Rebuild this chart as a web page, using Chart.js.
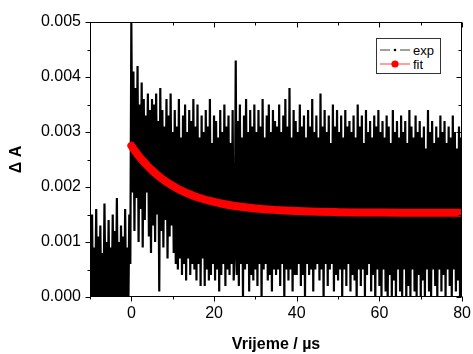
<!DOCTYPE html>
<html>
<head>
<meta charset="utf-8">
<script src="https://cdn.jsdelivr.net/npm/chart.js@4/dist/chart.umd.min.js"></script>
<style>
  html, body { margin: 0; padding: 0; background: #fff; }
  #wrap { position: relative; width: 473px; height: 354px; }
  #legend {
    position: absolute; left: 376px; top: 38px; width: 63px; height: 34px;
    border: 1px solid #333; background: #fff; box-sizing: content-box;
    font-family: "Liberation Sans", Arial, sans-serif; font-size: 13px; color: #000;
  }
  .row { position: absolute; left: 3px; height: 14px; display: flex; align-items: center; }
  .row svg { margin-right: 3px; }
</style>
</head>
<body>
<div id="wrap">
  <canvas id="c" width="473" height="354"></canvas>
  <div id="legend"></div>
</div>
<script>
// ---- data ----
const expTimeStart = -10;   // µs, first sample
const expTimeStep = 0.25;   // µs, sampling interval
const expValues = [
  0.0012,-0.0004,0.0015,-0.0006,0.0009,-0.0002,0.0016,-0.0005,0.0011,-0.0001,
  0.0013,-0.0006,0.0008,-0.0003,0.0017,-0.0002,0.0010,-0.0007,0.0014,-0.0003,
  0.0009,-0.0001,0.0015,-0.0005,0.0012,-0.0002,0.0018,-0.0004,0.0010,-0.0006,
  0.0013,-0.0001,0.0011,-0.0005,0.0016,-0.0002,0.0009,-0.0004,0.0015,0.0006,
  0.0050,
  0.0019,0.0041,0.0012,0.0038,0.0018,0.0042,0.0010,0.0035,0.0016,0.0039,
  0.0009,0.0036,0.0014,0.0033,0.0019,0.0037,0.0011,0.0034,0.0008,0.0036,
  0.0013,0.0035,0.0010,0.0037,0.0015,0.0032,0.0001,0.0038,0.0012,0.0034,
  0.0009,0.0031,0.0014,0.0036,0.0007,0.0033,0.0011,0.0037,0.0013,0.0030,
  0.0008,0.0034,0.0006,0.0031,0.0005,0.0036,0.0007,0.0029,0.0004,0.0033,
  0.0006,0.0035,0.0003,0.0030,0.0007,0.0034,0.0004,0.0032,0.0006,0.0036,
  0.0005,0.0031,0.0003,0.0035,0.0006,0.0029,0.0002,0.0033,0.0007,0.0030,
  0.0002,0.0034,0.0005,0.0031,0.0003,0.0036,0.0004,0.0028,0.0006,0.0033,
  0.0003,0.0032,0.0005,0.0029,0.0001,0.0034,0.0004,0.0030,0.0006,0.0035,
  0.0002,0.0031,0.0005,0.0033,0.0004,0.0028,0.0006,0.0034,0.0003,0.0008,
  0.0043,0.0004,0.0032,0.0002,0.0035,0.0006,0.0029,0.0000,0.0033,0.0005,
  0.0036,0.0006,0.0030,0.0001,0.0034,0.0004,0.0031,0.0003,0.0035,0.0005,
  0.0030,0.0002,0.0034,0.0006,0.0031,-0.0001,0.0036,0.0005,0.0029,0.0006,
  0.0033,0.0003,0.0035,0.0004,0.0030,0.0001,0.0034,0.0005,0.0032,0.0004,
  0.0031,0.0005,0.0035,0.0002,0.0030,0.0006,0.0033,-0.0001,0.0036,0.0005,
  0.0031,0.0003,0.0038,0.0005,0.0029,0.0001,0.0034,0.0004,0.0032,0.0004,
  0.0030,0.0006,0.0035,0.0002,0.0031,0.0004,0.0033,0.0000,0.0029,0.0006,
  0.0034,0.0004,0.0031,0.0005,0.0036,0.0001,0.0030,0.0005,0.0033,0.0006,
  0.0029,0.0003,0.0037,0.0005,0.0031,-0.0001,0.0034,0.0006,0.0030,0.0002,
  0.0033,0.0005,0.0028,0.0006,0.0035,0.0001,0.0031,0.0004,0.0034,0.0003,
  0.0030,0.0005,0.0033,0.0000,0.0029,0.0005,0.0034,0.0002,0.0031,0.0006,
  0.0032,0.0001,0.0030,0.0004,0.0033,0.0003,0.0029,-0.0001,0.0035,0.0005,
  0.0031,0.0002,0.0033,0.0005,0.0028,0.0000,0.0034,0.0004,0.0030,0.0006,
  0.0032,0.0001,0.0029,0.0004,0.0033,-0.0001,0.0031,0.0005,0.0034,0.0002,
  0.0030,0.0000,0.0032,0.0005,0.0029,0.0001,0.0033,-0.0001,0.0031,0.0004,
  0.0028,0.0000,0.0034,0.0003,0.0030,-0.0001,0.0032,0.0005,0.0029,0.0001,
  0.0033,0.0000,0.0030,0.0005,0.0032,-0.0001,0.0028,0.0002,0.0034,0.0000,
  0.0031,0.0005,0.0029,0.0001,0.0033,0.0000,0.0030,0.0004,0.0032,0.0000,
  0.0029,0.0003,0.0031,0.0000,0.0027,0.0005,0.0034,0.0001,0.0030,0.0000,
  0.0032,0.0005,0.0028,0.0002,0.0031,0.0000,0.0029,0.0005,0.0033,0.0001,
  0.0030,0.0004,0.0032,0.0000,0.0028,0.0005,0.0031,0.0002,0.0029,0.0000,
  0.0033,0.0005,0.0030,0.0001,0.0027,0.0003,0.0031,0.0000,0.0029,0.0004
];
const fitTimes = [0,1,2,3,4,5,6,7,8,9,10,11,12,13,14,15,16,17,18,19,20,
                  22,24,26,28,30,32,34,36,38,40,45,50,55,60,65,70,75,80];
const fitValues = [0.002750,0.002644,0.002547,0.002459,0.002378,0.002304,0.002237,
                   0.002176,0.002120,0.002068,0.002022,0.001979,0.001940,0.001904,
                   0.001872,0.001842,0.001815,0.001790,0.001768,0.001747,0.001728,
                   0.001695,0.001668,0.001645,0.001626,0.001610,0.001597,0.001586,
                   0.001576,0.001569,0.001562,0.001550,0.001543,0.001538,0.001535,
                   0.001533,0.001532,0.001531,0.001531];
const seriesNames = ['exp', 'fit'];
const xTickLabels = [0, 20, 40, 60, 80];
const yTickLabels = ['0.000','0.001','0.002','0.003','0.004','0.005'];

// ---- build library data ----
const expPoints = expValues.map((v, i) => ({ x: expTimeStart + i * expTimeStep, y: v }));
const fitPoints = fitValues.map((v, i) => ({ x: fitTimes[i], y: v }));

Chart.defaults.font.family = '"Liberation Sans", Arial, Helvetica, sans-serif';
Chart.defaults.font.size = 16;
Chart.defaults.color = '#000';

const isMajorY = v => Math.abs(v / 0.001 - Math.round(v / 0.001)) < 1e-6;
const isMajorX = v => Math.abs(v / 20 - Math.round(v / 20)) < 1e-6;

const frameTicks = {
  id: 'frameTicks',
  afterDatasetsDraw(chart) {
    const { ctx, chartArea: { left, top, right, bottom }, scales: { x, y } } = chart;
    ctx.save();
    ctx.strokeStyle = '#000';
    ctx.lineWidth = 1;
    const L = Math.round(left) + 0.5, R = Math.round(right) - 0.5;
    const T = Math.round(top) + 0.5, B = Math.round(bottom) - 0.5;
    ctx.strokeRect(L, T, R - L, B - T);
    ctx.beginPath();
    y.ticks.forEach(t => {
      const p = Math.round(y.getPixelForValue(t.value)) + 0.5;
      const len = isMajorY(t.value) ? 5 : 3;
      ctx.moveTo(L, p); ctx.lineTo(L - len, p);
      ctx.moveTo(R, p); ctx.lineTo(R - len, p);
    });
    x.ticks.forEach(t => {
      const p = Math.round(x.getPixelForValue(t.value)) + 0.5;
      const len = isMajorX(t.value) ? 5 : 3;
      ctx.moveTo(p, B); ctx.lineTo(p, B + len);
      ctx.moveTo(p, T); ctx.lineTo(p, T + len);
    });
    ctx.stroke();
    ctx.restore();
  }
};

new Chart(document.getElementById('c'), {
  type: 'line',
  data: {
    datasets: [
      { label: seriesNames[0], data: expPoints, borderColor: '#000', borderWidth: 2.2,
        borderJoinStyle: 'miter', pointRadius: 0, fill: false, order: 1 },
      { label: seriesNames[1], data: fitPoints, borderColor: '#ff0000', borderWidth: 8,
        borderCapStyle: 'round', borderJoinStyle: 'round', pointRadius: 0,
        cubicInterpolationMode: 'monotone', fill: false, order: 0 }
    ]
  },
  options: {
    responsive: false,
    animation: false,
    events: [],
    layout: { padding: { left: 0, top: 22, right: 10, bottom: 0 } },
    plugins: { legend: { display: false }, tooltip: { enabled: false } },
    scales: {
      x: {
        type: 'linear', min: -10, max: 80,
        afterFit: s => { s.height = 57; },
        ticks: { stepSize: 10, autoSkip: false, maxRotation: 0, padding: 2,
                 callback: v => xTickLabels.includes(v) ? String(v) : '' },
        grid: { display: true, drawOnChartArea: false, drawTicks: true, tickLength: 5,
                color: 'rgba(0,0,0,0)' },
        border: { display: false },
        title: { display: true, text: 'Vrijeme / µs', font: { weight: 'bold', size: 16 },
                 padding: { top: 0, bottom: 0 } }
      },
      y: {
        type: 'linear', min: 0, max: 0.005,
        afterFit: s => { s.width = 90; },
        ticks: { stepSize: 0.0005, autoSkip: false, padding: 4,
                 callback: v => {
                   if (!isMajorY(v)) return '';
                   return yTickLabels[Math.round(v / 0.001)];
                 } },
        grid: { display: true, drawOnChartArea: false, drawTicks: true, tickLength: 5,
                color: 'rgba(0,0,0,0)' },
        border: { display: false },
        title: { display: true, text: 'Δ A', font: { weight: 'bold', size: 16 },
                 padding: { top: 7, bottom: 0 } }
      }
    }
  },
  plugins: [frameTicks]
});

// ---- legend (HTML) ----
const legendStyles = [
  { line: '#808080', dot: '#000', r: 1.3 },
  { line: '#ff7f7f', dot: '#ff0000', r: 3.6 }
];
const leg = document.getElementById('legend');
seriesNames.forEach((name, i) => {
  const st = legendStyles[i];
  const row = document.createElement('div');
  row.className = 'row';
  row.style.top = (i === 0 ? 4 : 18) + 'px';
  row.innerHTML =
    '<svg width="30" height="10" viewBox="0 0 30 10">' +
    '<line x1="0" y1="5" x2="10" y2="5" stroke="' + st.line + '" stroke-width="1.5"/>' +
    '<line x1="20" y1="5" x2="30" y2="5" stroke="' + st.line + '" stroke-width="1.5"/>' +
    (i === 1 ? '<line x1="10" y1="5" x2="20" y2="5" stroke="' + st.line + '" stroke-width="1.5"/>' : '') +
    '<circle cx="15" cy="5" r="' + st.r + '" fill="' + st.dot + '"/></svg>' +
    '<span>' + name + '</span>';
  leg.appendChild(row);
});
</script>
</body>
</html>
